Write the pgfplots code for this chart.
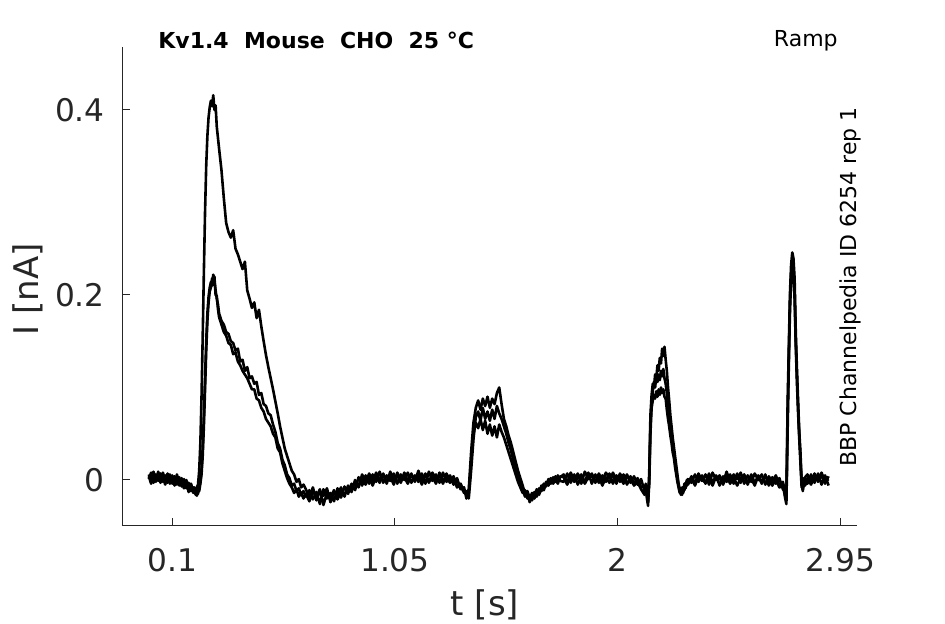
\documentclass[border=0pt]{standalone}
\usepackage{fontspec}
\setmainfont{DejaVu Sans}
\usepackage{pgfplots}
\usepackage{pgfplotstable}
\pgfplotsset{compat=1.18}
\definecolor{axisgray}{HTML}{262626}

\pgfplotstableread{
x a b c
0.000 0.006 0.001 0.004
0.010 -0.002 0.008 -0.004
0.020 0.009 -0.003 0.005
0.030 0.001 0.006 -0.002
0.040 0.007 -0.001 0.009
0.050 -0.003 0.007 0.000
0.060 0.008 -0.002 0.004
0.070 0.000 0.005 -0.005
0.080 0.006 -0.003 0.007
0.090 -0.004 0.006 0.001
0.100 0.005 -0.004 0.003
0.110 -0.002 0.004 -0.006
0.120 0.004 -0.005 0.006
0.130 -0.006 0.003 -0.003
0.140 0.002 -0.007 -0.001
0.150 -0.007 0.001 -0.009
0.160 0.000 -0.009 -0.002
0.170 -0.010 -0.003 -0.013
0.180 -0.004 -0.012 -0.006
0.190 -0.012 -0.008 -0.014
0.195 -0.010 -0.012 -0.008
0.200 -0.014 -0.016 -0.013
0.205 -0.008 -0.013 -0.017
0.210 -0.005 -0.015 -0.011
0.215 0.010 -0.008 -0.012
0.220 0.040 -0.002 -0.004
0.225 0.090 0.012 0.006
0.230 0.155 0.035 0.026
0.235 0.225 0.070 0.058
0.240 0.290 0.110 0.098
0.245 0.340 0.150 0.140
0.250 0.372 0.180 0.172
0.255 0.392 0.198 0.192
0.260 0.403 0.208 0.204
0.265 0.410 0.214 0.208
0.270 0.404 0.210 0.218
0.275 0.416 0.222 0.212
0.280 0.400 0.215 0.220
0.285 0.405 0.205 0.200
0.290 0.382 0.196 0.199
0.295 0.370 0.190 0.185
0.300 0.358 0.180 0.176
0.310 0.335 0.172 0.168
0.320 0.305 0.168 0.160
0.330 0.278 0.160 0.156
0.340 0.268 0.158 0.148
0.350 0.262 0.150 0.146
0.360 0.270 0.148 0.136
0.370 0.250 0.140 0.138
0.380 0.244 0.142 0.128
0.390 0.236 0.128 0.124
0.400 0.228 0.130 0.118
0.410 0.236 0.118 0.114
0.420 0.205 0.122 0.110
0.430 0.196 0.110 0.104
0.440 0.186 0.112 0.098
0.450 0.192 0.104 0.098
0.460 0.175 0.106 0.088
0.470 0.184 0.092 0.086
0.480 0.166 0.094 0.078
0.490 0.150 0.082 0.074
0.500 0.135 0.080 0.066
0.510 0.122 0.072 0.062
0.520 0.110 0.070 0.058
0.530 0.098 0.060 0.050
0.540 0.085 0.052 0.046
0.550 0.072 0.040 0.034
0.560 0.058 0.034 0.030
0.570 0.046 0.022 0.018
0.580 0.034 0.016 0.010
0.590 0.026 0.006 0.002
0.600 0.018 0.002 -0.004
0.610 0.010 -0.006 -0.008
0.620 0.006 -0.004 -0.014
0.630 -0.002 -0.012 -0.010
0.640 0.001 -0.009 -0.018
0.650 -0.008 -0.016 -0.014
0.660 -0.005 -0.012 -0.020
0.670 -0.010 -0.018 -0.015
0.685 -0.019 -0.011 -0.023
0.700 -0.008 -0.021 -0.012
0.715 -0.022 -0.013 -0.018
0.730 -0.012 -0.026 -0.010
0.745 -0.017 -0.010 -0.027
0.760 -0.009 -0.020 -0.014
0.775 -0.024 -0.014 -0.019
0.790 -0.013 -0.023 -0.011
0.805 -0.016 -0.009 -0.021
0.820 -0.008 -0.019 -0.013
0.835 -0.018 -0.007 -0.015
0.850 -0.006 -0.015 -0.010
0.865 -0.013 -0.004 -0.009
0.880 0.000 -0.011 -0.003
0.895 -0.008 0.003 -0.006
0.910 0.006 -0.006 0.002
0.925 -0.003 0.005 -0.005
0.940 0.007 -0.004 0.003
0.955 -0.002 0.006 -0.006
0.970 0.008 -0.002 0.004
0.985 0.000 0.009 -0.003
1.000 0.006 -0.003 0.007
1.015 -0.004 0.005 -0.002
1.030 0.009 -0.001 0.004
1.045 0.001 0.007 -0.005
1.060 0.005 -0.004 0.008
1.075 -0.003 0.006 0.000
1.090 0.008 0.000 0.003
1.105 -0.001 0.008 -0.004
1.120 0.007 -0.003 0.006
1.135 -0.002 0.005 -0.001
1.150 0.010 -0.002 0.004
1.165 0.000 0.007 -0.005
1.180 0.006 -0.004 0.007
1.195 -0.003 0.009 -0.002
1.210 0.008 -0.001 0.004
1.225 0.001 0.006 -0.004
1.240 0.005 -0.003 0.008
1.255 -0.004 0.008 -0.001
1.270 0.007 -0.002 0.003
1.285 -0.001 0.005 -0.003
1.300 0.004 -0.005 0.001
1.315 -0.006 0.002 -0.008
1.330 -0.004 -0.010 -0.006
1.345 -0.012 -0.008 -0.014
1.355 -0.016 -0.020 -0.012
1.365 -0.010 -0.014 -0.020
1.375 0.030 0.020 0.010
1.385 0.062 0.050 0.044
1.395 0.078 0.062 0.068
1.405 0.086 0.056 0.074
1.415 0.076 0.066 0.064
1.425 0.088 0.054 0.078
1.435 0.080 0.064 0.066
1.445 0.090 0.050 0.074
1.455 0.078 0.060 0.064
1.465 0.088 0.048 0.076
1.475 0.082 0.058 0.066
1.485 0.094 0.046 0.080
1.495 0.100 0.060 0.072
1.505 0.082 0.052 0.066
1.515 0.066 0.046 0.058
1.525 0.058 0.038 0.050
1.535 0.048 0.030 0.040
1.545 0.040 0.022 0.032
1.555 0.030 0.014 0.022
1.565 0.020 0.006 0.012
1.575 0.010 -0.002 0.004
1.585 0.002 -0.008 -0.006
1.595 -0.006 -0.014 -0.010
1.605 -0.015 -0.011 -0.018
1.615 -0.012 -0.020 -0.014
1.625 -0.020 -0.016 -0.024
1.635 -0.014 -0.022 -0.016
1.645 -0.018 -0.013 -0.020
1.655 -0.010 -0.018 -0.012
1.665 -0.014 -0.009 -0.016
1.675 -0.006 -0.012 -0.008
1.685 -0.009 -0.004 -0.011
1.695 -0.002 -0.007 -0.003
1.705 -0.005 0.001 -0.006
1.715 0.002 -0.004 0.001
1.725 -0.003 0.003 -0.004
1.735 0.004 -0.002 0.002
1.745 -0.002 0.005 -0.004
1.755 0.003 -0.001 0.004
1.770 0.006 -0.002 0.003
1.785 -0.003 0.007 -0.005
1.800 0.008 -0.003 0.005
1.815 0.000 0.006 -0.002
1.830 0.007 -0.005 0.002
1.845 -0.004 0.004 0.006
1.860 0.009 -0.002 -0.004
1.875 0.001 0.008 0.003
1.890 0.005 -0.004 0.007
1.905 -0.003 0.006 -0.002
1.920 0.007 -0.003 0.004
1.935 -0.001 0.005 -0.006
1.950 0.008 -0.002 0.003
1.965 0.002 0.007 -0.003
1.980 0.005 -0.004 0.008
1.995 -0.004 0.005 0.000
2.010 0.007 -0.002 0.003
2.025 0.000 0.006 -0.004
2.040 0.006 -0.005 0.004
2.055 -0.003 0.004 0.001
2.070 0.004 -0.004 -0.006
2.085 -0.005 0.002 -0.002
2.100 0.001 -0.008 -0.010
2.115 -0.012 -0.006 -0.016
2.120 -0.008 -0.012 -0.004
2.125 -0.020 -0.016 -0.012
2.130 -0.028 -0.024 -0.020
2.135 0.010 -0.004 0.002
2.140 0.070 0.050 0.060
2.145 0.092 0.078 0.084
2.150 0.104 0.086 0.096
2.155 0.100 0.092 0.106
2.160 0.114 0.088 0.100
2.165 0.110 0.096 0.112
2.170 0.124 0.090 0.106
2.175 0.118 0.098 0.114
2.180 0.132 0.092 0.108
2.185 0.126 0.100 0.118
2.190 0.142 0.094 0.112
2.195 0.134 0.098 0.120
2.200 0.144 0.090 0.110
2.205 0.130 0.088 0.104
2.210 0.118 0.076 0.094
2.215 0.100 0.066 0.082
2.220 0.086 0.058 0.072
2.225 0.070 0.048 0.062
2.230 0.058 0.040 0.050
2.235 0.046 0.030 0.040
2.240 0.036 0.024 0.030
2.245 0.026 0.014 0.020
2.250 0.016 0.006 0.010
2.255 0.006 -0.002 0.002
2.260 -0.004 -0.008 -0.006
2.265 -0.010 -0.014 -0.012
2.270 -0.014 -0.010 -0.016
2.275 -0.008 -0.016 -0.010
2.280 -0.012 -0.008 -0.014
2.285 -0.004 -0.011 -0.006
2.290 -0.008 -0.003 -0.009
2.295 0.000 -0.006 -0.002
2.300 -0.004 0.001 -0.005
2.315 0.004 -0.003 0.002
2.330 -0.004 0.006 -0.006
2.345 0.007 -0.002 0.004
2.360 -0.001 0.005 0.001
2.375 0.006 -0.004 -0.003
2.390 -0.005 0.007 0.003
2.405 0.008 -0.003 -0.006
2.420 0.000 0.005 0.004
2.435 0.005 -0.006 0.002
2.450 -0.003 0.004 -0.005
2.465 0.009 -0.002 0.005
2.480 -0.002 0.006 -0.004
2.495 0.006 -0.004 0.003
2.510 0.001 0.007 -0.006
2.525 0.008 -0.003 0.002
2.540 -0.004 0.005 0.006
2.555 0.005 -0.005 -0.003
2.570 -0.002 0.006 0.002
2.585 0.007 -0.003 -0.006
2.600 0.000 0.004 0.005
2.615 0.006 -0.004 -0.002
2.630 -0.005 0.006 0.003
2.645 0.004 -0.006 0.000
2.660 -0.002 0.003 -0.006
2.675 0.005 -0.004 0.001
2.690 -0.006 0.002 -0.008
2.705 -0.002 -0.010 -0.006
2.710 -0.008 -0.012 -0.006
2.715 -0.018 -0.020 -0.014
2.720 -0.022 -0.026 -0.018
2.725 0.080 0.050 0.065
2.730 0.140 0.120 0.130
2.735 0.200 0.180 0.190
2.740 0.232 0.216 0.222
2.745 0.246 0.228 0.238
2.750 0.240 0.222 0.232
2.755 0.218 0.196 0.205
2.760 0.160 0.145 0.150
2.765 0.120 0.105 0.112
2.770 0.085 0.072 0.078
2.775 0.052 0.044 0.048
2.780 0.030 0.018 0.024
2.785 -0.002 -0.008 -0.004
2.790 -0.010 -0.006 -0.012
2.795 -0.004 0.002 0.000
2.800 0.003 -0.004 -0.006
2.810 0.006 -0.004 0.002
2.825 -0.003 0.006 -0.005
2.840 0.007 -0.003 0.004
2.855 -0.002 0.007 0.000
2.870 0.005 -0.005 0.008
2.885 -0.004 0.005 -0.002
2.900 0.004 -0.006 0.001
}\traces

\begin{document}
\begin{tikzpicture}
\path[use as bounding box] (0,0) rectangle (472.5pt,312pt);
\begin{axis}[
  at={(61.15pt,49.15pt)}, anchor=south west,
  width=367.2pt, height=239.5pt, scale only axis,
  xmin=-0.113, xmax=3.02, ymin=-0.0494, ymax=0.4684,
  axis x line*=bottom, axis y line*=left,
  axis line style={-, color=axisgray, line width=0.5pt},
  xtick={0.1,1.05,2,2.95}, xticklabels={0.1,1.05,2,2.95},
  ytick={0,0.2,0.4}, yticklabels={0,0.2,0.4},
  tick align=inside, major tick length=3.7pt,
  tick style={color=axisgray, line width=0.5pt},
  /pgf/number format/assume math mode=true,
  ticklabel style={font=\fontsize{15.6}{18}\selectfont, text=axisgray, inner sep=0pt},
  xticklabel style={anchor=center, yshift=-17.2pt},
  yticklabel style={anchor=east, xshift=-8.6pt},
  clip=false,
]
\addplot[black, line width=1.3pt, line join=round] table[x=x, y=c] {\traces};
\addplot[black, line width=1.3pt, line join=round] table[x=x, y=b] {\traces};
\addplot[black, line width=1.3pt, line join=round] table[x=x, y=a] {\traces};
\end{axis}
\node[anchor=west, inner sep=0pt, font=\bfseries\fontsize{11}{13}\selectfont] at (79pt,292pt) {Kv1.4\ \ Mouse\ \ CHO\ \ 25 °C};
\node[anchor=base east, inner sep=0pt, font=\fontsize{11}{13}\selectfont] at (419pt,288.5pt) {Ramp};
\node[rotate=90, inner sep=0pt, font=\fontsize{11}{13}\selectfont] at (425pt,168.5pt) {BBP Channelpedia ID 6254 rep 1};
\node[rotate=90, inner sep=0pt, text=axisgray, font=\fontsize{17}{20}\selectfont] at (14pt,167.5pt) {I [nA]};
\node[inner sep=0pt, text=axisgray, font=\fontsize{17}{20}\selectfont] at (242.5pt,9.5pt) {t [s]};
\end{tikzpicture}
\end{document}
